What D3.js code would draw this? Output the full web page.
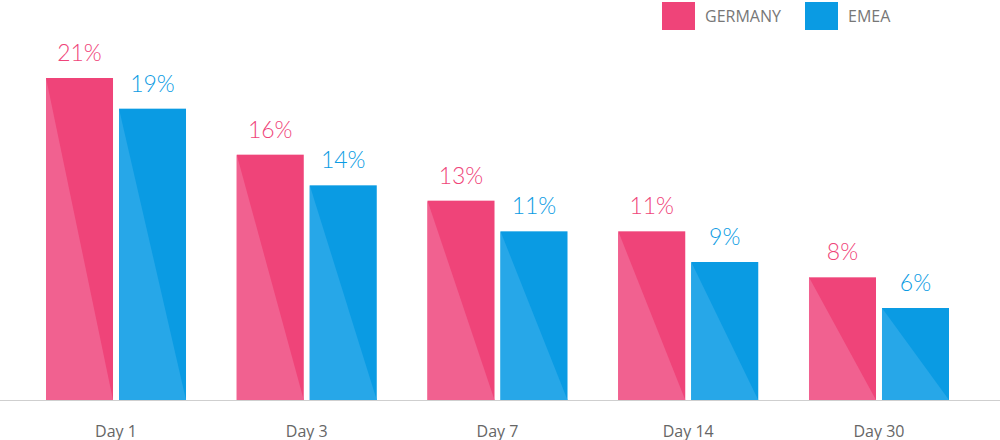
<!DOCTYPE html>
<html><head><meta charset="utf-8">
<script src="https://cdn.jsdelivr.net/npm/d3@7"></script>
<style>body{margin:0;background:#fff}</style></head>
<body><svg id="c" width="1000" height="440"></svg>
<script>
const categories = ["Day 1","Day 3","Day 7","Day 14","Day 30"];
const seriesNames = ["GERMANY","EMEA"];
const germany = [21,16,13,11,8];
const emea = [19,14,11,9,6];
const colors = ["#ef4479","#0a9be3"];
const lightColors = ["#f16190","#27a7e8"];

const svg = d3.select("#c");
const font = "Lato, 'Open Sans', sans-serif";
const base = 400;
const x = d3.scaleBand().domain(categories).range([46, 949]).paddingInner(0.266).paddingOuter(0);
const y = d3.scaleLinear().domain([0, 21]).range([base, 78]);
const sub = d3.scaleBand().domain(seriesNames).range([0, x.bandwidth()]).paddingInner(0.082);

svg.append("line").attr("x1",0).attr("x2",1000).attr("y1",base+0.5).attr("y2",base+0.5)
  .attr("stroke","#cfcfcf").attr("stroke-width",1);

const series = [germany, emea];
series.forEach((vals, si) => {
  categories.forEach((c, i) => {
    const x0 = x(c) + sub(seriesNames[si]), w = sub.bandwidth(), yt = y(vals[i]);
    svg.append("rect").attr("x",x0).attr("y",yt).attr("width",w).attr("height",base-yt).attr("fill",colors[si]);
    svg.append("path").attr("d",`M${x0},${yt}L${x0},${base}L${x0+w},${base}Z`).attr("fill",lightColors[si]);
    svg.append("text").attr("x",x0+w/2).attr("y",yt-17).attr("text-anchor","middle")
      .attr("font-family",font).attr("font-size",23).attr("font-weight",300)
      .attr("fill",colors[si]).text(vals[i]+"%");
  });
});

svg.selectAll(".cat").data(categories).enter().append("text")
  .attr("x",d=>x(d)+x.bandwidth()/2).attr("y",437).attr("text-anchor","middle")
  .attr("font-family","'Open Sans', sans-serif").attr("font-size",16).attr("fill","#666").text(d=>d);

const lx = [662, 805];
seriesNames.forEach((n, i) => {
  svg.append("rect").attr("x",lx[i]).attr("y",2).attr("width",33).attr("height",28).attr("fill",colors[i]);
  svg.append("text").attr("x",lx[i]+43).attr("y",22).attr("font-family","'Open Sans', sans-serif").attr("font-size",16)
    .attr("fill","#777").text(n);
});
</script></body></html>
